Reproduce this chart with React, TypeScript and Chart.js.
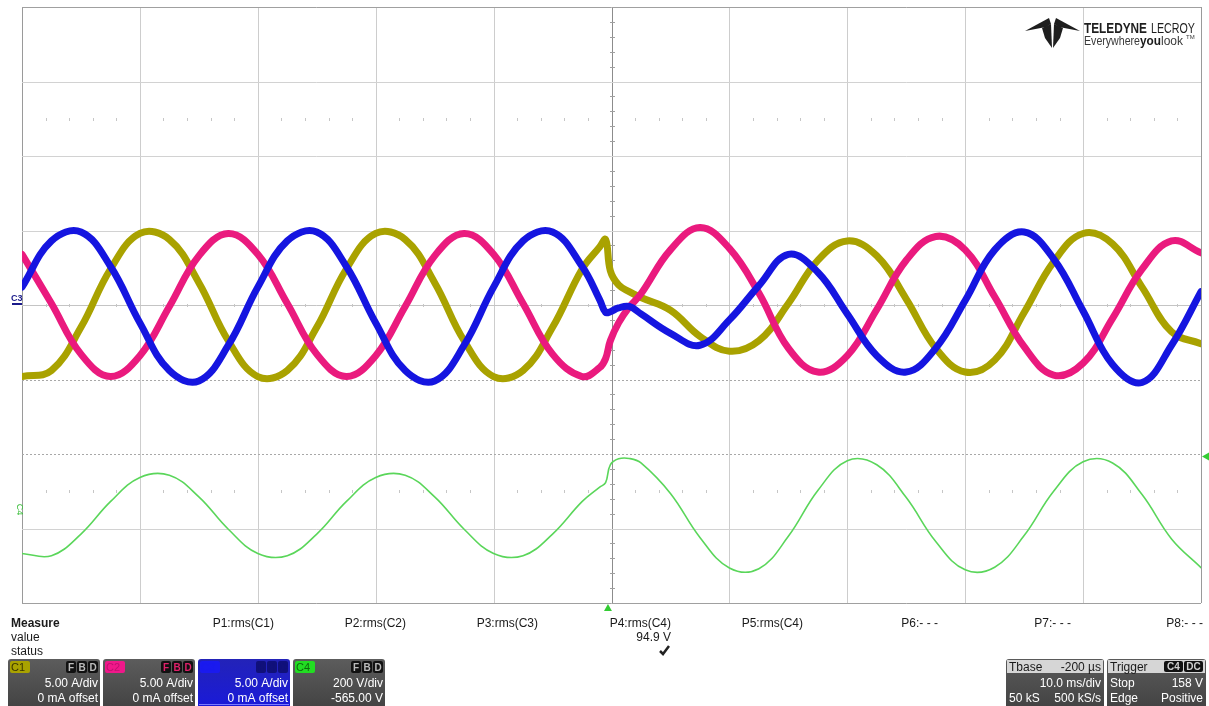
import React, { useEffect, useRef } from "react";
import { Chart, registerables } from "chart.js";

Chart.register(...registerables);

// ---- Data ----
const timeMs = [0, 2.5, 5, 7.5, 10, 12.5, 15, 17.5, 20, 22.5, 25, 27.5, 30, 32.5, 35, 37.5, 40, 42.5, 45, 47.5,
  49.0, 49.5, 49.9, 50.6, 51.5, 52.5,
  55, 57.5, 60, 62.5, 65, 67.5, 70, 72.5, 75, 77.5, 80, 82.5, 85, 87.5, 90, 92.5, 95, 97.5, 100];

const c1Amps = [-4.8, -4.4, -1.5, 2.4, 4.8, 4.4, 1.5, -2.4, -4.8, -4.4, -1.5, 2.4, 4.8, 4.4, 1.5, -2.4, -4.8, -4.4, -1.5, 2.4,
  3.9, 4.4, 2.3, 1.35, 0.9, 0.5,
  -0.35, -2.1, -3.1, -2.4, 0.1, 3.0, 4.3, 3.3, 0.4, -2.9, -4.5, -3.7, -0.5, 2.9, 4.8, 4.1, 1.2, -1.8, -2.6];

const c2Amps = [3.4, 0.1, -3.3, -4.8, -3.4, -0.1, 3.3, 4.8, 3.4, 0.1, -3.3, -4.8, -3.4, -0.1, 3.3, 4.8, 3.4, 0.1, -3.3, -4.8,
  -4.2, -3.6, -2.4, -1.2, -0.15, 0.75,
  3.7, 5.2, 3.8, 0.8, -2.9, -4.5, -3.4, -0.3, 3.0, 4.6, 3.7, 0.55, -2.8, -4.7, -3.9, -0.9, 2.4, 4.3, 3.5];

const c3Amps = [1.2, 4.3, 4.9, 2.6, -1.2, -4.4, -5.1, -2.7, 1.2, 4.3, 4.9, 2.6, -1.2, -4.4, -5.1, -2.7, 1.2, 4.3, 4.9, 2.6,
  0.35, -0.5, -0.45, -0.2, -0.1, -0.6,
  -1.9, -2.7, -1.0, 1.3, 3.4, 2.2, -0.6, -3.4, -4.5, -2.9, 0.3, 3.7, 4.9, 3.1, -0.4, -4.0, -5.2, -2.7, 0.9];

const c4Volts = [-102, -108, -50, 37, 102, 108, 50, -37, -102, -108, -50, 37, 102, 108, 50, -37, -102, -108, -50, 37,
  76, 88, 136, 152, 153, 141,
  59, -59, -141, -143, -56, 67, 147, 136, 48, -70, -146, -139, -54, 65, 144, 141, 56, -63, -140];

const gridTimeMs = [0, 10, 20, 30, 40, 50, 60, 70, 80, 90, 100];
const gridCurrentA = [20, 15, 10, 5, 0, -5, -10, -15, -20];
const dottedCurrentA = [-5, -10];
const minorRowsA = [12.5, 0, -12.5];
const triggerTimeMs = 49.7;
const triggerLevelV = 158;

const measureLabels = ["P1:rms(C1)", "P2:rms(C2)", "P3:rms(C3)", "P4:rms(C4)", "P5:rms(C4)", "P6:- - -", "P7:- - -", "P8:- - -"];
const measureValues = ["", "", "", "94.9 V", "", "", "", ""];
const measureStatus = [false, false, false, true, false, false, false, false];

const channelNames = ["C1", "C2", "C3", "C4"];
const channelScales = ["5.00 A/div", "5.00 A/div", "5.00 A/div", "200 V/div"];
const channelOffsets = ["0 mA offset", "0 mA offset", "0 mA offset", "-565.00 V"];

const C1_COLOR = "#a9a200";
const C2_COLOR = "#ea1a7e";
const C3_COLOR = "#1515e0";
const C4_COLOR = "#5ad65a";

const FONT = "'Liberation Sans', Arial, sans-serif";

const gridPlugin = {
  id: "scopeGrid",
  beforeDatasetsDraw(chart: any) {
    const { ctx, chartArea: a, scales } = chart;
    const xs = scales.x;
    const ya = scales.yA;
    ctx.save();
    gridTimeMs.forEach((t, i) => {
      const px = Math.round(xs.getPixelForValue(t)) + 0.5;
      ctx.beginPath();
      ctx.moveTo(px, a.top);
      ctx.lineTo(px, a.bottom);
      if (i === 0 || i === gridTimeMs.length - 1) {
        ctx.strokeStyle = "#9a9a9a";
      } else if (t === 50) {
        ctx.strokeStyle = "#8c8c8c";
      } else {
        ctx.strokeStyle = "#cdcdcd";
      }
      ctx.lineWidth = 1;
      ctx.stroke();
    });
    gridCurrentA.forEach((v, i) => {
      const py = Math.round(ya.getPixelForValue(v)) + 0.5;
      ctx.beginPath();
      ctx.moveTo(a.left, py);
      ctx.lineTo(a.right, py);
      ctx.lineWidth = 1;
      if (dottedCurrentA.includes(v)) {
        ctx.setLineDash([2, 2]);
        ctx.strokeStyle = "#a8a8a8";
      } else if (i === 0 || i === gridCurrentA.length - 1) {
        ctx.setLineDash([]);
        ctx.strokeStyle = "#a0a0a0";
      } else {
        ctx.setLineDash([]);
        ctx.strokeStyle = v === 0 ? "#c4c4c4" : "#d2d2d2";
      }
      ctx.stroke();
    });
    ctx.setLineDash([]);
    ctx.strokeStyle = "#c6c6c6";
    minorRowsA.forEach((v) => {
      const py = Math.round(ya.getPixelForValue(v));
      for (let t = 2; t < 100; t += 2) {
        if (t % 10 === 0) continue;
        const px = Math.round(xs.getPixelForValue(t)) + 0.5;
        ctx.beginPath();
        ctx.moveTo(px, py - 1);
        ctx.lineTo(px, py + 2);
        ctx.stroke();
      }
    });
    const cx = Math.round(xs.getPixelForValue(50));
    ctx.strokeStyle = "#a0a0a0";
    for (let v = -19; v < 20; v++) {
      if (v % 5 === 0) continue;
      const py = Math.round(ya.getPixelForValue(v)) + 0.5;
      ctx.beginPath();
      ctx.moveTo(cx - 2, py);
      ctx.lineTo(cx + 3, py);
      ctx.stroke();
    }
    ctx.restore();
  },
};

function roundRect(ctx: CanvasRenderingContext2D, x: number, y: number, w: number, h: number, r: number) {
  ctx.beginPath();
  ctx.moveTo(x + r, y);
  ctx.lineTo(x + w - r, y);
  ctx.quadraticCurveTo(x + w, y, x + w, y + r);
  ctx.lineTo(x + w, y + h - r);
  ctx.quadraticCurveTo(x + w, y + h, x + w - r, y + h);
  ctx.lineTo(x + r, y + h);
  ctx.quadraticCurveTo(x, y + h, x, y + h - r);
  ctx.lineTo(x, y + r);
  ctx.quadraticCurveTo(x, y, x + r, y);
  ctx.closePath();
}

function drawChannelBox(ctx: CanvasRenderingContext2D, i: number, x: number, w: number) {
  const top = 659;
  const h = 706 - top + 2;
  const isC3 = i === 2;
  const g = ctx.createLinearGradient(0, top, 0, 706);
  if (isC3) {
    g.addColorStop(0, "#2323b8");
    g.addColorStop(1, "#1a1ad8");
  } else {
    g.addColorStop(0, "#5c5c5c");
    g.addColorStop(1, "#444444");
  }
  ctx.fillStyle = g;
  roundRect(ctx, x, top, w, h, 3);
  ctx.fill();
  const badgeColors = [C1_COLOR, "#f0188a", "#1a1aee", "#22dd22"];
  const badgeText = ["#3a3500", "#c01070", "#1a1aee", "#0d6a0d"];
  ctx.fillStyle = badgeColors[i];
  roundRect(ctx, x + 2, top + 2, 20, 12, 2);
  ctx.fill();
  ctx.fillStyle = badgeText[i];
  ctx.font = `11px ${FONT}`;
  ctx.textAlign = "left";
  ctx.textBaseline = "alphabetic";
  ctx.fillText(channelNames[i], x + 3, top + 12);
  const iconBg = isC3 ? "#10107a" : "#111111";
  const iconFg = ["#bbbbbb", "#e0206a", "#10107a", "#bbbbbb"][i];
  ["F", "B", "D"].forEach((ch, k) => {
    const ix = x + w - 34 + k * 11;
    ctx.fillStyle = iconBg;
    roundRect(ctx, ix, top + 2, 10, 12, 2);
    ctx.fill();
    ctx.fillStyle = iconFg;
    ctx.font = `bold 10px ${FONT}`;
    ctx.textAlign = "center";
    ctx.fillText(ch, ix + 5, top + 12);
  });
  ctx.fillStyle = "#ffffff";
  ctx.font = `12px ${FONT}`;
  ctx.textAlign = "right";
  ctx.fillText(channelScales[i], x + w - 2, 687);
  ctx.fillText(channelOffsets[i], x + w - 2, 702);
  if (isC3) {
    ctx.fillStyle = "#7a7aff";
    ctx.fillRect(x + 1, 704, w - 2, 1);
  }
}

function drawInfoBox(ctx: CanvasRenderingContext2D, x: number, w: number, head: [string, string], rows: [string, string][], badges: string[]) {
  const top = 659;
  const g = ctx.createLinearGradient(0, top, 0, 706);
  g.addColorStop(0, "#5a5a5a");
  g.addColorStop(1, "#444444");
  ctx.fillStyle = g;
  roundRect(ctx, x, top, w, 49, 3);
  ctx.fill();
  ctx.fillStyle = "#d6d6d6";
  ctx.fillRect(x + 1, top + 1, w - 2, 13);
  ctx.font = `12px ${FONT}`;
  ctx.textBaseline = "alphabetic";
  ctx.fillStyle = "#1a1a1a";
  ctx.textAlign = "left";
  ctx.fillText(head[0], x + 3, top + 12);
  if (head[1]) {
    ctx.textAlign = "right";
    ctx.fillText(head[1], x + w - 3, top + 12);
  }
  if (badges.length) {
    let bx = x + w - 2 - badges.length * 20;
    badges.forEach((b) => {
      ctx.fillStyle = "#111";
      roundRect(ctx, bx, top + 2, 19, 11, 2);
      ctx.fill();
      ctx.fillStyle = "#cfcfcf";
      ctx.font = `bold 10px ${FONT}`;
      ctx.textAlign = "center";
      ctx.fillText(b, bx + 9.5, top + 11);
      bx += 20;
    });
  }
  ctx.font = `12px ${FONT}`;
  ctx.fillStyle = "#ffffff";
  rows.forEach((r, k) => {
    const by = 687 + k * 15;
    if (r[0]) {
      ctx.textAlign = "left";
      ctx.fillText(r[0], x + 3, by);
    }
    ctx.textAlign = "right";
    ctx.fillText(r[1], x + w - 3, by);
  });
}

const overlayPlugin = {
  id: "scopeOverlay",
  afterDraw(chart: any) {
    const ctx: CanvasRenderingContext2D = chart.ctx;
    const xs = chart.scales.x;
    const ya = chart.scales.yA;
    const yv = chart.scales.yV;
    ctx.save();

    const y3 = ya.getPixelForValue(0);
    ctx.fillStyle = "#1a1a8a";
    ctx.font = `bold 9px ${FONT}`;
    ctx.textAlign = "left";
    ctx.textBaseline = "alphabetic";
    ctx.fillText("C3", 11, y3 - 4);
    ctx.fillRect(12, y3 - 2, 10, 2);
    const y4 = yv.getPixelForValue(0);
    ctx.save();
    ctx.translate(17, y4 - 6);
    ctx.rotate(Math.PI / 2);
    ctx.fillStyle = "#3cbf3c";
    ctx.font = `9px ${FONT}`;
    ctx.textAlign = "center";
    ctx.fillText("C4", 0, 0);
    ctx.restore();

    const tx = xs.getPixelForValue(triggerTimeMs);
    ctx.fillStyle = "#33cc33";
    ctx.beginPath();
    ctx.moveTo(tx - 4, 611);
    ctx.lineTo(tx + 4, 611);
    ctx.lineTo(tx, 604);
    ctx.closePath();
    ctx.fill();
    const ty = yv.getPixelForValue(triggerLevelV);
    ctx.beginPath();
    ctx.moveTo(1202, ty);
    ctx.lineTo(1209, ty - 4);
    ctx.lineTo(1209, ty + 4);
    ctx.closePath();
    ctx.fill();

    ctx.fillStyle = "#1e1e1e";
    const polys = [
      [[1025, 31], [1049, 18], [1051, 24], [1046, 27]],
      [[1080, 31], [1056, 18], [1054, 24], [1059, 27]],
      [[1042, 28], [1051, 24], [1052, 48], [1045, 38]],
      [[1063, 28], [1054, 24], [1053, 48], [1060, 38]],
    ];
    polys.forEach((p) => {
      ctx.beginPath();
      p.forEach(([px, py], k) => (k ? ctx.lineTo(px, py) : ctx.moveTo(px, py)));
      ctx.closePath();
      ctx.fill();
    });
    ctx.textAlign = "left";
    ctx.fillStyle = "#1e1e1e";
    ctx.font = `bold 15px ${FONT}`;
    ctx.fillText("TELEDYNE", 1084, 33, 63);
    ctx.font = `15px ${FONT}`;
    ctx.fillText("LECROY", 1151, 33, 44);
    ctx.font = `12px ${FONT}`;
    ctx.fillStyle = "#3a3a3a";
    ctx.fillText("Everywhere", 1084, 45, 56);
    ctx.font = `bold 12px ${FONT}`;
    ctx.fillStyle = "#1a1a1a";
    ctx.fillText("you", 1140, 45, 21);
    ctx.font = `12px ${FONT}`;
    ctx.fillStyle = "#3a3a3a";
    ctx.fillText("look", 1161, 45, 24);
    ctx.font = `6px ${FONT}`;
    ctx.fillText("TM", 1186, 39);

    ctx.fillStyle = "#1a1a1a";
    ctx.font = `bold 12px ${FONT}`;
    ctx.fillText("Measure", 11, 627);
    ctx.font = `12px ${FONT}`;
    ctx.fillText("value", 11, 641);
    ctx.fillText("status", 11, 655);
    const rightEdges = [274, 406, 538, 671, 803, 938, 1071, 1203];
    ctx.textAlign = "right";
    measureLabels.forEach((lab, i) => {
      ctx.fillStyle = "#1a1a1a";
      ctx.fillText(lab, rightEdges[i], 627);
      if (measureValues[i]) ctx.fillText(measureValues[i], rightEdges[i], 641);
      if (measureStatus[i]) {
        const cx = rightEdges[i] - 6;
        ctx.strokeStyle = "#222";
        ctx.lineWidth = 2.5;
        ctx.beginPath();
        ctx.moveTo(cx - 5, 651);
        ctx.lineTo(cx - 2, 654);
        ctx.lineTo(cx + 4, 646);
        ctx.stroke();
      }
    });

    const boxX = [8, 103, 198, 293];
    boxX.forEach((bx, i) => drawChannelBox(ctx, i, bx, 92));
    drawInfoBox(ctx, 1006, 98, ["Tbase", "-200 µs"], [["", "10.0 ms/div"], ["50 kS", "500 kS/s"]], []);
    drawInfoBox(ctx, 1107, 99, ["Trigger", ""], [["Stop", "158 V"], ["Edge", "Positive"]], ["C4", "DC"]);

    ctx.restore();
  },
};

export default function App() {
  const ref = useRef<HTMLCanvasElement | null>(null);

  useEffect(() => {
    if (!ref.current) return;
    const mk = (vals: number[]) => timeMs.map((t, i) => ({ x: t, y: vals[i] }));
    const common = {
      pointRadius: 0,
      tension: 0.4,
      borderJoinStyle: "round" as const,
      borderCapStyle: "round" as const,
      fill: false,
      clip: 0,
    };
    const chart = new Chart(ref.current, {
      type: "line",
      data: {
        datasets: [
          { ...common, label: "C1", data: mk(c1Amps), yAxisID: "yA", borderColor: C1_COLOR, borderWidth: 7, order: 3 },
          { ...common, label: "C2", data: mk(c2Amps), yAxisID: "yA", borderColor: C2_COLOR, borderWidth: 7, order: 2 },
          { ...common, label: "C3", data: mk(c3Amps), yAxisID: "yA", borderColor: C3_COLOR, borderWidth: 7, order: 1 },
          { ...common, label: "C4", data: mk(c4Volts), yAxisID: "yV", borderColor: C4_COLOR, borderWidth: 1.6, order: 0 },
        ],
      },
      options: {
        responsive: false,
        animation: false,
        devicePixelRatio: 1,
        layout: { padding: { left: 22, top: 7, right: 8, bottom: 103 } },
        plugins: { legend: { display: false }, tooltip: { enabled: false } },
        events: [],
        scales: {
          x: { type: "linear", min: 0, max: 100, display: false },
          yA: { type: "linear", min: -20, max: 20, display: false },
          yV: { type: "linear", min: -235, max: 1365, display: false },
        },
      },
      plugins: [gridPlugin, overlayPlugin],
    });
    return () => chart.destroy();
  }, []);

  return (
    <div style={{ position: "fixed", left: 0, top: 0, width: 1209, height: 706, background: "#ffffff" }}>
      <canvas ref={ref} width={1209} height={706} style={{ width: 1209, height: 706, display: "block" }} />
    </div>
  );
}
